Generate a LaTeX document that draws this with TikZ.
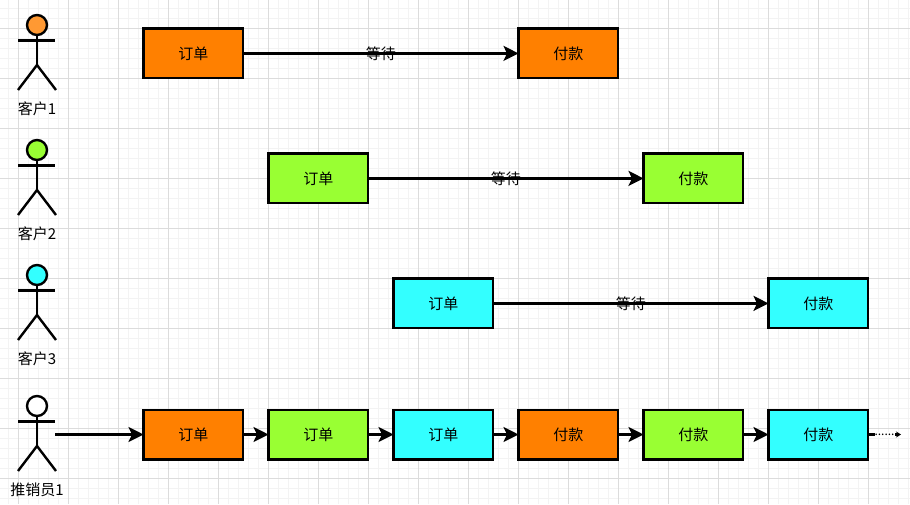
\documentclass[tikz,border=0pt]{standalone}
\usepackage{fontspec}
\setmainfont{Noto Sans CJK SC}
\usetikzlibrary{calc,arrows.meta,positioning}
\definecolor{orderorange}{HTML}{FF8000}
\definecolor{headorange}{HTML}{FF9933}
\definecolor{lime}{HTML}{99FF33}
\definecolor{aqua}{HTML}{33FFFF}
\definecolor{minorgrid}{HTML}{F3F3F3}
\definecolor{majorgrid}{HTML}{DCDCDC}
\tikzset{
  box/.style={draw=black,line width=2.4pt,minimum width=99.6pt,minimum height=49.6pt,inner sep=0pt,outer sep=0pt,font=\fontsize{15}{15}\selectfont},
  head/.style={draw=black,line width=2.4pt,circle,minimum size=20pt,inner sep=0pt,outer sep=0pt},
  limb/.style={draw=black,line width=2.4pt},
  caption/.style={font=\fontsize{15}{15}\selectfont,inner sep=0pt},
  link/.style={draw=black,line width=2.4pt,-{Stealth[length=15pt,width=15pt,inset=3.5pt]}},
}
\begin{document}
\begin{tikzpicture}[x=1pt,y=-1pt]
\useasboundingbox (0,0) rectangle (910,504);
\fill[white] (0,0) rectangle (910,504);
\foreach \x in {8,18,...,908}{\draw[minorgrid,line width=.8pt] (\x,0)--(\x,504);}
\foreach \y in {8,18,...,498}{\draw[minorgrid,line width=.8pt] (0,\y)--(910,\y);}
\foreach \x in {18,68,...,908}{\draw[majorgrid,line width=.8pt] (\x,0)--(\x,504);}
\foreach \y in {28,78,...,478}{\draw[majorgrid,line width=.8pt] (0,\y)--(910,\y);}
% actors
\foreach \id/\y/\col/\txt in {1/25/headorange/客户1,2/150/lime/客户2,3/275/aqua/客户3,4/406/white/推销员1}{
  \node[head,fill=\col] (head\id) at (37,\y){};
  \draw[limb] (head\id.south) -- ++(0,30) coordinate (hip\id);
  \draw[limb] ($(head\id.south)+(-19,5.5)$) -- ++(37,0);
  \draw[limb] (hip\id) -- ++(-19,25);
  \draw[limb] (hip\id) -- ++(19,25);
  \node[caption] (who\id) at ($(hip\id)+(0,43.5)$) {\txt};
}
% customers
\foreach \id/\xa/\xb/\y/\col in {1/193.3/568.3/53.4/orderorange,2/318.3/693.3/178.4/lime,3/443.3/818.3/303.4/aqua}{
  \node[box,fill=\col] (order\id) at (\xa,\y){订单};
  \node[box,fill=\col] (pay\id) at (\xb,\y){付款};
  \draw[link] (order\id) -- node[caption]{等待} (pay\id);
}
% salesman
\node[box,fill=orderorange] (s1) at (193.3,434.5){订单};
\node[box,fill=lime] (s2) at (318.3,434.5){订单};
\node[box,fill=aqua] (s3) at (443.3,434.5){订单};
\node[box,fill=orderorange] (s4) at (568.3,434.5){付款};
\node[box,fill=lime] (s5) at (693.3,434.5){付款};
\node[box,fill=aqua] (s6) at (818.3,434.5){付款};
\coordinate (start) at (55,434.5);
\coordinate (more) at (901,434.5);
\draw[link] (start) -- (s1);
\foreach \a/\b in {s1/s2,s2/s3,s3/s4,s4/s5,s5/s6}{\draw[link] (\a) -- (\b);}
\draw[draw=black,line width=2.4pt,-{Stealth[length=5pt,width=6pt]}] (s6) -- node[fill=white,inner xsep=0pt,inner ysep=2pt,font=\fontsize{12}{12}\selectfont,pos=.5]{......} (more);
\end{tikzpicture}
\end{document}
